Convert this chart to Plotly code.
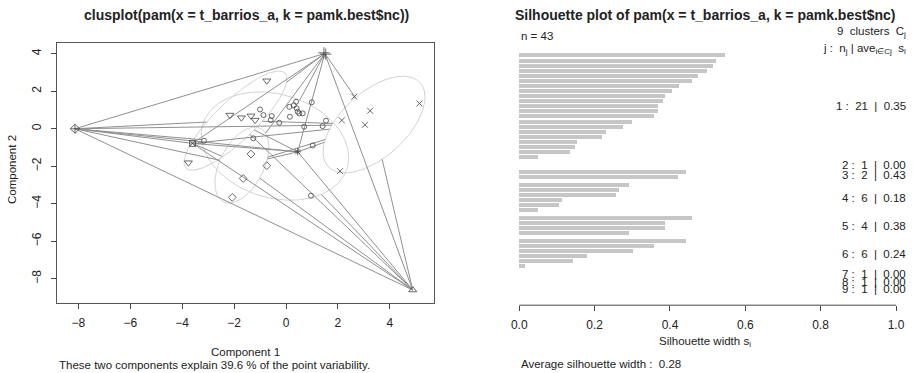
import numpy as np
import plotly.graph_objects as go

# ---------------- clusplot data (component scores) ----------------
pc1 = [-3.16, -1.26, -1.00, -0.87, -0.55, -0.59, -0.26, 0.13, 0.39, 0.41, 0.45,
       0.51, 0.64, 0.15, 0.99, 0.70, 1.41, 1.54, 1.03, 0.96, 0.30,
       4.88,
       1.46, 1.53,
       2.63, 3.24, 2.15, 3.04, 5.14, 2.08,
       -1.35, -0.74, -1.65, -2.07,
       -0.74, -2.16, -1.72, -1.35, -1.19, -3.76,
       -3.60,
       0.45,
       -8.13]
pc2 = [-0.64, -0.51, 1.03, 0.73, 0.68, 0.46, 0.32, 1.17, 1.44, 1.09, 0.91,
       0.82, 0.82, 0.64, 1.41, 0.11, 0.14, 0.43, -0.89, -3.57, 1.25,
       -8.60,
       4.05, 3.98,
       1.71, 0.96, 0.45, 0.21, 1.35, -2.26,
       -1.35, -1.97, -2.65, -3.66,
       2.56, 0.73, 0.59, 0.69, 0.46, -1.81,
       -0.78,
       -1.23,
       0.00]
clus = [1] * 21 + [2] + [3] * 2 + [4] * 6 + [5] * 4 + [6] * 6 + [7] + [8] + [9]

# ellipse per cluster: centre and two conjugate semi-axis vectors (component units)
ell_cx = [-0.424, 4.88, 1.495, 3.39, -1.70, -1.946, -3.60, 0.45, -8.13]
ell_cy = [-0.923, -8.60, 4.015, 0.224, -1.937, 0.437, -0.78, -1.23, 0.00]
ell_ux = [2.813, 0.0, 0.035, 1.965, 1.040, 1.908, 0.0, 0.0, 0.0]
ell_uy = [-0.213, 0.0, -0.035, 1.467, 0.961, 2.533, 0.0, 0.0, 0.0]
ell_vx = [0.385, 0.0, 0.015, 0.0, 0.0, 0.532, 0.0, 0.0, 0.0]
ell_vy = [-2.880, 0.0, 0.015, 2.119, 1.784, -0.768, 0.0, 0.0, 0.0]

x_ticks = [-8, -6, -4, -2, 0, 2, 4]
y_ticks = [-8, -6, -4, -2, 0, 2, 4]
variability = 39.6

# ---------------- silhouette data ----------------
sil_clusters = [1, 2, 3, 4, 5, 6, 7, 8, 9]
sil_values = [
    [0.546, 0.522, 0.515, 0.498, 0.476, 0.459, 0.425, 0.407, 0.388, 0.383, 0.370,
     0.368, 0.359, 0.300, 0.275, 0.230, 0.221, 0.155, 0.148, 0.135, 0.049],
    [0.0],
    [0.442, 0.423],
    [0.291, 0.265, 0.257, 0.114, 0.105, 0.049],
    [0.460, 0.388, 0.387, 0.291],
    [0.442, 0.357, 0.302, 0.180, 0.143, 0.017],
    [0.0],
    [0.0],
    [0.0],
]
sil_avg_labels = ["0.35", "0.00", "0.43", "0.18", "0.38", "0.24", "0.00", "0.00", "0.00"]
sil_ticks = [0.0, 0.2, 0.4, 0.6, 0.8, 1.0]
avg_width = "0.28"

W, H = 916, 373
FONT = "Liberation Sans, Arial, sans-serif"
TXT = "#222222"
PT = "#444444"
LINE = "#909090"
ELL = "#d2d2d2"


def px(x):
    return x / W


def py(y):
    return 1 - y / H


fig = go.Figure()

# ---- ellipses ----
t = np.linspace(0, 2 * np.pi, 240)
for k in range(len(ell_cx)):
    if ell_ux[k] == 0 and ell_vx[k] == 0 and ell_uy[k] == 0 and ell_vy[k] == 0:
        continue
    ex = ell_cx[k] + ell_ux[k] * np.cos(t) + ell_vx[k] * np.sin(t)
    ey = ell_cy[k] + ell_uy[k] * np.cos(t) + ell_vy[k] * np.sin(t)
    fig.add_trace(go.Scatter(x=ex, y=ey, mode="lines", line=dict(color=ELL, width=1),
                             hoverinfo="skip", xaxis="x", yaxis="y"))


# ---- distance lines between ellipse borders (clusplot lines = 2) ----
def border_frac(k, d):
    U = np.array([[ell_ux[k], ell_vx[k]], [ell_uy[k], ell_vy[k]]])
    if abs(np.linalg.det(U)) < 1e-12:
        return 0.0
    w = np.linalg.solve(U, d)
    return 1.0 / np.linalg.norm(w)


lx, ly = [], []
n_c = len(ell_cx)
for i in range(n_c - 1):
    for j in range(i + 1, n_c):
        m1 = np.array([ell_cx[i], ell_cy[i]])
        m2 = np.array([ell_cx[j], ell_cy[j]])
        d = m2 - m1
        s1 = border_frac(i, d)
        s2 = border_frac(j, -d)
        if s1 + s2 >= 1:
            continue
        p1 = m1 + s1 * d
        p2 = m2 - s2 * d
        lx += [p1[0], p2[0], None]
        ly += [p1[1], p2[1], None]
fig.add_trace(go.Scatter(x=lx, y=ly, mode="lines", line=dict(color=LINE, width=1),
                         hoverinfo="skip", xaxis="x", yaxis="y"))

# ---- points ----
symbols = {1: "circle-open", 2: "triangle-up-open", 3: "cross-thin-open", 4: "x-thin-open",
           5: "diamond-open", 6: "triangle-down-open", 7: "square-x-open",
           8: "asterisk-open", 9: "diamond-cross-open"}
sizes = {1: 5, 2: 7, 3: 8, 4: 6, 5: 6, 6: 7, 7: 6, 8: 6, 9: 7}
for c in sorted(set(clus)):
    xs = [pc1[i] for i in range(len(clus)) if clus[i] == c]
    ys = [pc2[i] for i in range(len(clus)) if clus[i] == c]
    fig.add_trace(go.Scatter(x=xs, y=ys, mode="markers", xaxis="x", yaxis="y",
                             marker=dict(symbol=symbols[c], size=sizes[c], color=PT,
                                         line=dict(color=PT, width=0.8))))

# ---- silhouette bars ----
bar_y, bar_x = [], []
label_pos = []
cursor = 0.0
for ci, vals in enumerate(sil_values):
    if ci > 0:
        cursor += 0.5
    start = cursor
    for v in vals:
        bar_y.append(cursor + 0.5)
        bar_x.append(v)
        cursor += 1
    label_pos.append((start + cursor) / 2)

fig.add_trace(go.Bar(x=bar_x, y=bar_y, orientation="h", width=0.78,
                     marker=dict(color="#c6c6c6", line=dict(width=0)),
                     xaxis="x2", yaxis="y2", hoverinfo="skip"))

# ---------------- layout ----------------
axis_common = dict(showgrid=False, zeroline=False, ticks="outside", ticklen=5,
                   tickcolor="#444", tickwidth=1,
                   tickfont=dict(family=FONT, size=12, color=TXT))

fig.update_layout(
    width=W, height=H, margin=dict(l=0, r=0, t=0, b=0),
    paper_bgcolor="white", plot_bgcolor="white", showlegend=False,
    bargap=0,
    xaxis=dict(domain=[px(57.3), px(434)], range=[-8.81, 5.70], tickvals=x_ticks,
               showline=True, mirror=True, linecolor="#555", linewidth=1,
               anchor="y", ticklabelstandoff=3, **axis_common),
    yaxis=dict(domain=[py(303.3), py(42.7)], range=[-9.31, 4.59], tickvals=y_ticks,
               showline=True, mirror=True, linecolor="#555", linewidth=1,
               anchor="x", tickangle=-90, ticklabelstandoff=6, **axis_common),
    xaxis2=dict(domain=[px(504.2), px(911.1)], range=[-0.04, 1.04], tickvals=sil_ticks,
                tickformat=".1f", showline=False, anchor="y2", ticklabelstandoff=3,
                **axis_common),
    yaxis2=dict(domain=[py(305.2), py(42)], range=[49.65, -2.15], visible=False,
                anchor="x2"),
)

# axis line of the silhouette plot (only from 0 to 1, as in R)
fig.add_shape(type="line", xref="x2", yref="paper", x0=sil_ticks[0], x1=sil_ticks[-1],
              y0=py(305.2), y1=py(305.2), line=dict(color="#444", width=1))


def ann(text, x, y, size=12, anchor="center", bold=False, angle=0, xref="paper", yref="paper"):
    fig.add_annotation(text=f"<b>{text}</b>" if bold else text, x=x, y=y, xref=xref, yref=yref,
                       xanchor=anchor, yanchor="middle", showarrow=False, textangle=angle,
                       font=dict(family=FONT, size=size, color=TXT))


NB = "\u00a0"
ann("clusplot(pam(x = t_barrios_a, k = pamk.best$nc))", px(246), py(15), size=14, bold=True)
ann("Silhouette plot of pam(x = t_barrios_a, k = pamk.best$nc)", px(705), py(15), size=14, bold=True)
ann("Component 1", px(245), py(352), size=11.5)
ann(f"These two components explain {variability} % of the point variability.", px(57), py(365),
    size=11.5, anchor="left")
ann("Component 2", px(12), py(170), size=11.5, angle=-90)
ann(f"Silhouette width s<sub>i</sub>", px(705), py(342), size=11.5)
ann(f"Average silhouette width :{NB}{NB}{avg_width}", px(519), py(364), size=11.5, anchor="left")
ann(f"n = {sum(len(v) for v in sil_values)}", px(519), py(36), size=11.5, anchor="left")
ann(f"{len(sil_clusters)}{NB}{NB}clusters{NB}{NB}C<sub>j</sub>", px(908), py(32), size=11.5, anchor="right")
ann(f"j :{NB}{NB}n<sub>j</sub> | ave<sub>i\u2208Cj</sub>{NB}{NB}s<sub>i</sub>", px(908), py(49),
    size=11.5, anchor="right")
for ci, c in enumerate(sil_clusters):
    ann(f"{c} :{NB}{NB}{len(sil_values[ci])}{NB}{NB}|{NB}{NB}{sil_avg_labels[ci]}", px(908), label_pos[ci],
        size=11.5, anchor="right", yref="y2")

fig.write_html("out.html", config={"displayModeBar": False},
               post_script="document.body.style.margin='0';document.body.style.overflow='hidden';")
